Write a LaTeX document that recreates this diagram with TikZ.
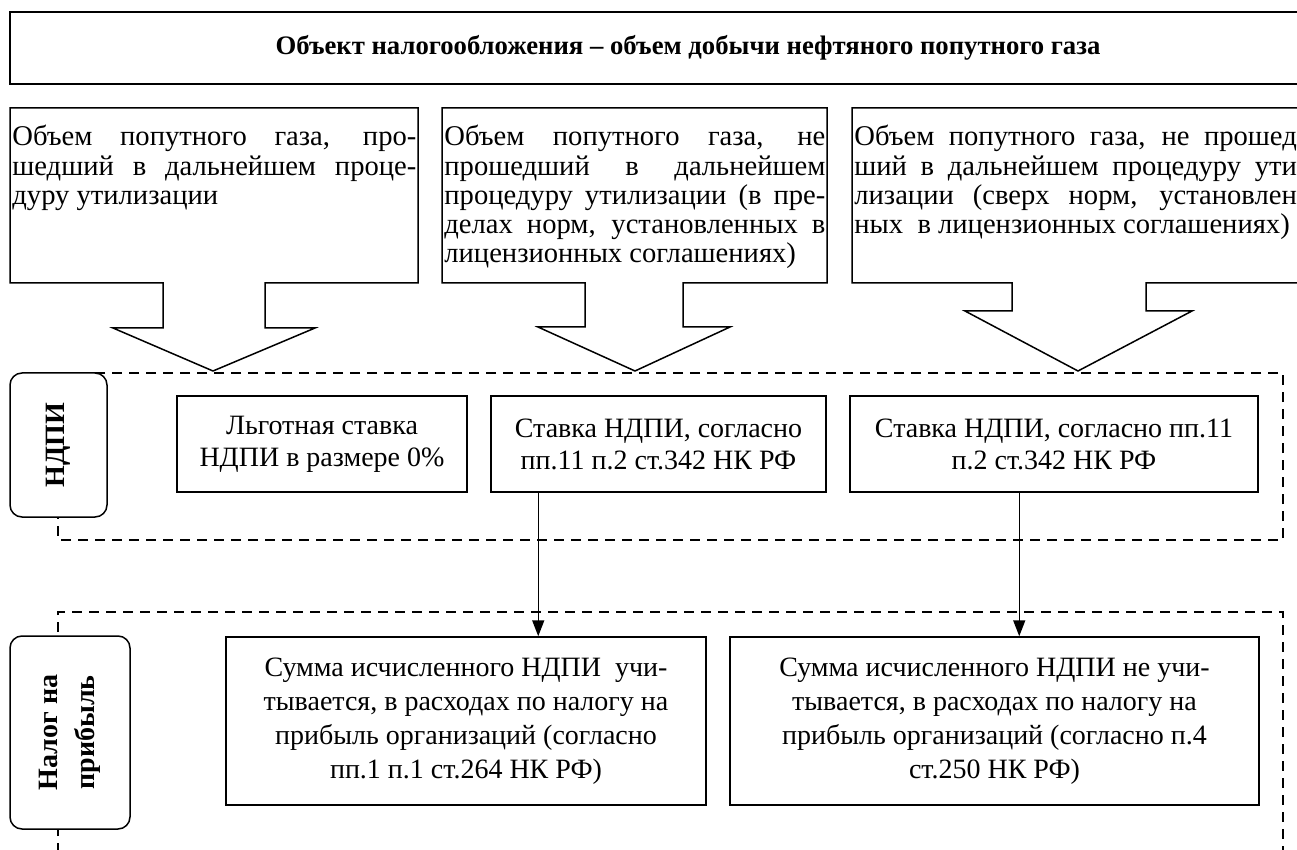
\documentclass[tikz,border=0pt]{standalone}
\usepackage{fontspec}
\setmainfont{Liberation Serif}
\usetikzlibrary{arrows.meta}

\newcommand{\jline}[1]{\hbox to\hsize{#1}}
\newcommand{\lline}[1]{\hbox to\hsize{#1\hfil}}
\newcommand{\voltext}[2]{\vtop{\hsize=#1\baselineskip=14.6pt\lineskiplimit=-5pt #2}}

\begin{document}
\begin{tikzpicture}[x=0.5pt,y=-0.5pt,
  frame/.style={draw,line width=0.75pt},
  volbox/.style={anchor=base west,inner sep=0pt,font=\fontsize{14.3}{14.6}\selectfont},
  ratebox/.style={frame,align=center,font=\fontsize{14}{16}\selectfont,minimum height=48pt,inner sep=0pt},
  sumbox/.style={frame,align=center,font=\fontsize{14}{17}\selectfont,minimum height=84pt,inner sep=0pt},
  tag/.style={frame,rounded corners=6pt,fill=white,rotate=90,align=center,font=\fontsize{14}{18.5}\selectfont\bfseries,inner sep=0pt},
  zone/.style={dash pattern=on 5pt off 3.5pt,line width=0.75pt},
  arr/.style={-{Triangle[length=8pt,width=6pt]},line width=0.75pt}
]
\useasboundingbox (0,0) rectangle (1297,850);

% title
\node[frame,line width=1pt,minimum width=678pt,minimum height=36pt,font=\fontsize{13.35}{16}\selectfont\bfseries] (ttl) at (688,48)
  {Объект налогообложения – объем добычи нефтяного попутного газа};

% volumes with block arrows
\node[volbox] (v1) at (12,146) {\voltext{202pt}{%
  \jline{Объем попутного газа, про-}
  \jline{шедший в дальнейшем проце-}
  \lline{дуру утилизации}}};
\draw[frame] (10,283) -- (10,108) -- (418,108) -- (418,283) -- (265,283) -- (265,328) -- (315,328)
  -- (213,371) -- (113,328) -- (163,328) -- (163,283) -- cycle;

\node[volbox] (v2) at (444,146) {\voltext{190.5pt}{%
  \jline{Объем попутного газа, не}
  \jline{прошедший в дальнейшем}
  \jline{процедуру утилизации (в пре-}
  \jline{делах норм, установленных в}
  \lline{лицензионных соглашениях)}}};
\draw[frame] (442,283) -- (442,108) -- (827,108) -- (827,283) -- (683,283) -- (683,327) -- (730,327)
  -- (635,371) -- (538,327) -- (585,327) -- (585,283) -- cycle;

\node[volbox] (v3) at (854,146) {\voltext{226pt}{%
  \jline{Объем попутного газа, не прошед-}
  \jline{ший в дальнейшем процедуру ути-}
  \jline{лизации (сверх норм, установлен-}
  \lline{ных \ в лицензионных соглашениях)}}};
\draw[frame] (852,283) -- (852,108) -- (1308,108) -- (1308,283) -- (1146,283) -- (1146,311) -- (1192,311)
  -- (1078,371) -- (965,311) -- (1012,311) -- (1012,283) -- cycle;

% zones
\draw[zone] (58,373) rectangle (1283,540);
\draw[zone] (58,870) -- (58,612) -- (1283,612) -- (1283,870);

\node[tag,minimum width=72pt,minimum height=48.5pt] (t1) at (58.5,445) {НДПИ};
\node[tag,minimum width=96.5pt,minimum height=60pt] (t2) at (70,732.5) {Налог на\\прибыль};

% rates
\node[ratebox,minimum width=145pt] (b1) at (322,444) {Льготная ставка\\НДПИ в размере 0\%};
\node[ratebox,minimum width=167.5pt] (b2) at (658.5,444) {Ставка НДПИ, согласно\\пп.11 п.2 ст.342 НК РФ};
\node[ratebox,minimum width=204pt] (b3) at (1054,444) {Ставка НДПИ, согласно пп.11\\п.2 ст.342 НК РФ};

% profit tax
\node[sumbox,minimum width=240pt] (d1) at (466,721) {Сумма исчисленного НДПИ\ \ учи-\\тывается, в расходах по налогу на\\прибыль организаций (согласно\\пп.1 п.1 ст.264 НК РФ)};
\node[sumbox,minimum width=264.5pt] (d2) at (994.5,721) {Сумма исчисленного НДПИ не учи-\\тывается, в расходах по налогу на\\прибыль организаций (согласно п.4\\ст.250 НК РФ)};

\draw[arr] ([xshift=24pt]b2.south west) -- ([xshift=24pt]b2.south west |- d1.north);
\draw[arr] ([xshift=85pt]b3.south west) -- ([xshift=85pt]b3.south west |- d2.north);
\end{tikzpicture}
\end{document}
